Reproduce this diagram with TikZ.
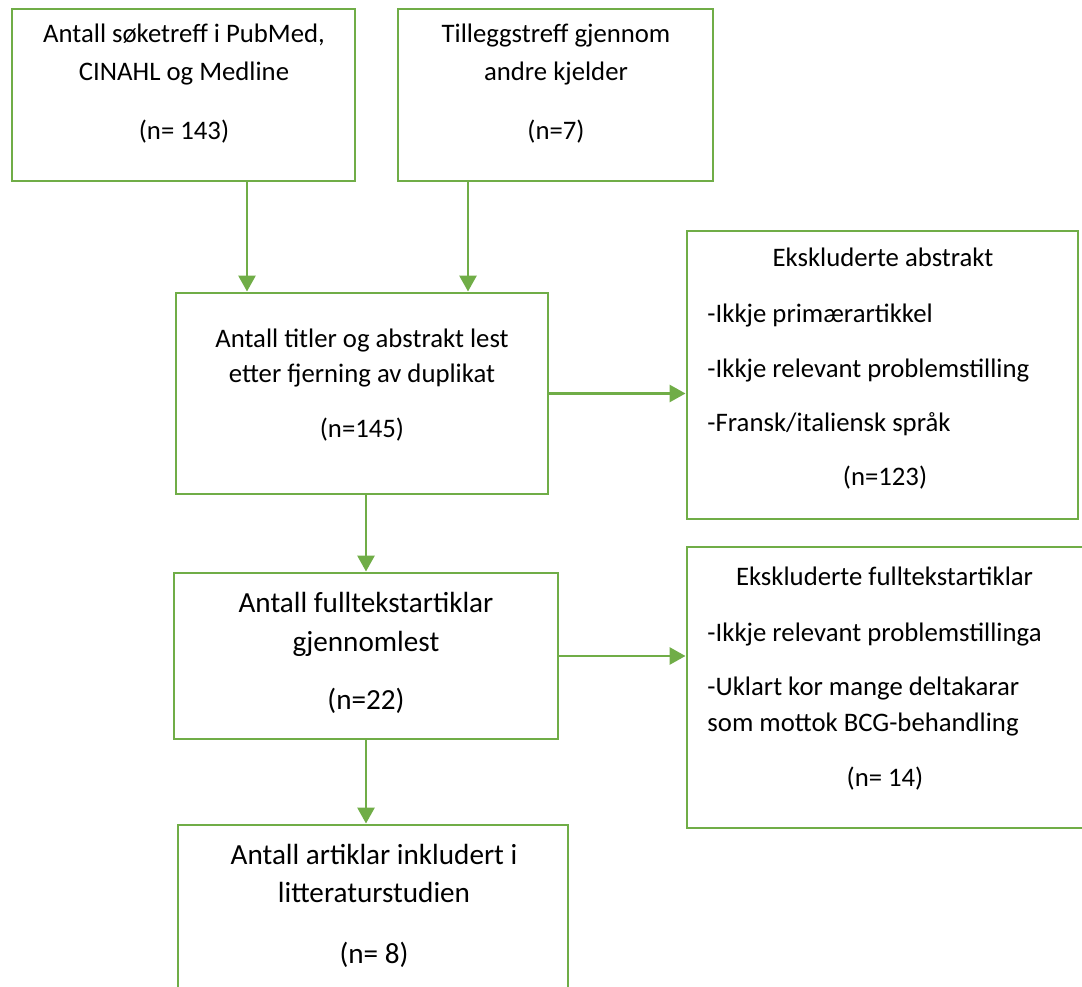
\documentclass[tikz,border=0pt]{standalone}
\usepackage{fontspec}
\setmainfont{Carlito}
\usepackage{xcolor}
\usepackage{tikz}
\usetikzlibrary{arrows.meta,calc}
\definecolor{flowgreen}{RGB}{112,173,71}
\newlength\pxu
\setlength\pxu{0.4115pt}

\begin{document}
\begin{tikzpicture}[
  x=0.4115pt, y=-0.4115pt,
  frame/.style={draw=flowgreen, line width=1.2pt, inner sep=0pt},
  txt/.style={inner sep=0pt, align=center, font=\fontsize{11}{14.5}\selectfont},
  bigtxt/.style={inner sep=0pt, align=center, font=\fontsize{12}{15.8}\selectfont},
  arr/.style={draw=flowgreen, line width=1.2pt, -{Triangle[width=7pt,length=6.6pt]}},
]
  \clip (0,0) rectangle (1082,987);

  \node[frame, minimum width=343\pxu, minimum height=172\pxu] (search) at (183.5,95) {};
  \node[frame, minimum width=315\pxu, minimum height=172\pxu] (extra) at (555.5,95) {};
  \node[frame, minimum width=372\pxu, minimum height=201\pxu] (screen) at (362,393.5) {};
  \node[frame, minimum width=391\pxu, minimum height=288\pxu] (exabs) at (882.5,375) {};
  \node[frame, minimum width=384\pxu, minimum height=166\pxu] (full) at (366,656) {};
  \node[frame, minimum width=413\pxu, minimum height=281\pxu] (exfull) at (893.5,687.5) {};
  \node[frame, minimum width=390\pxu, minimum height=185\pxu] (incl) at (373,917.5) {};

  \node[txt, anchor=base] (searchtxt) at (184,140)
    {Antall søketreff i PubMed,\\[1pt]CINAHL og Medline\\[10pt](n= 143)};
  \node[txt, anchor=base] (extratxt) at (556,140)
    {Tilleggstreff gjennom\\[1pt]andre kjelder\\[10pt](n=7)};
  \node[txt, anchor=base] (screentxt) at (362,437)
    {Antall titler og abstrakt lest\\etter fjerning av duplikat\\[8pt](n=145)};

  \node[txt, anchor=base] (exabshead) at (883,267) {Ekskluderte abstrakt};
  \node[txt, align=left, anchor=base west] (exabslist) at (707,432)
    {-Ikkje primærartikkel\\[8pt]-Ikkje relevant problemstilling\\[8pt]-Fransk/italiensk språk};
  \node[txt, anchor=base] (exabsn) at (885,486) {(n=123)};

  \node[bigtxt, anchor=base] (fulltxt) at (366,709)
    {Antall fulltekstartiklar\\gjennomlest\\[8pt](n=22)};

  \node[txt, anchor=base] (exfullhead) at (884.5,585) {Ekskluderte fulltekstartiklar};
  \node[txt, align=left, anchor=base west] (exfulllist) at (707,731)
    {-Ikkje relevant problemstillinga\\[8pt]-Uklart kor mange deltakarar\\som mottok BCG-behandling};
  \node[txt, anchor=base] (exfulln) at (885,786) {(n= 14)};

  \node[bigtxt, anchor=base] (incltxt) at (374,963)
    {Antall artiklar inkludert i\\litteraturstudien\\[9pt](n= 8)};

  \draw[arr] ($(search.south)+(63.5,0)$) coordinate (s1) -- (s1 |- screen.north);
  \draw[arr] ($(extra.south)+(-87.5,0)$) coordinate (e1) -- (e1 |- screen.north);
  \draw[arr] (screen.east) -- (screen.east -| exabs.west);
  \draw[arr] (screen.south -| full.north) -- (full.north);
  \draw[arr] (full.east) -- (full.east -| exfull.west);
  \draw[arr] (full.south) -- (full.south |- incl.north);
\end{tikzpicture}
\end{document}
